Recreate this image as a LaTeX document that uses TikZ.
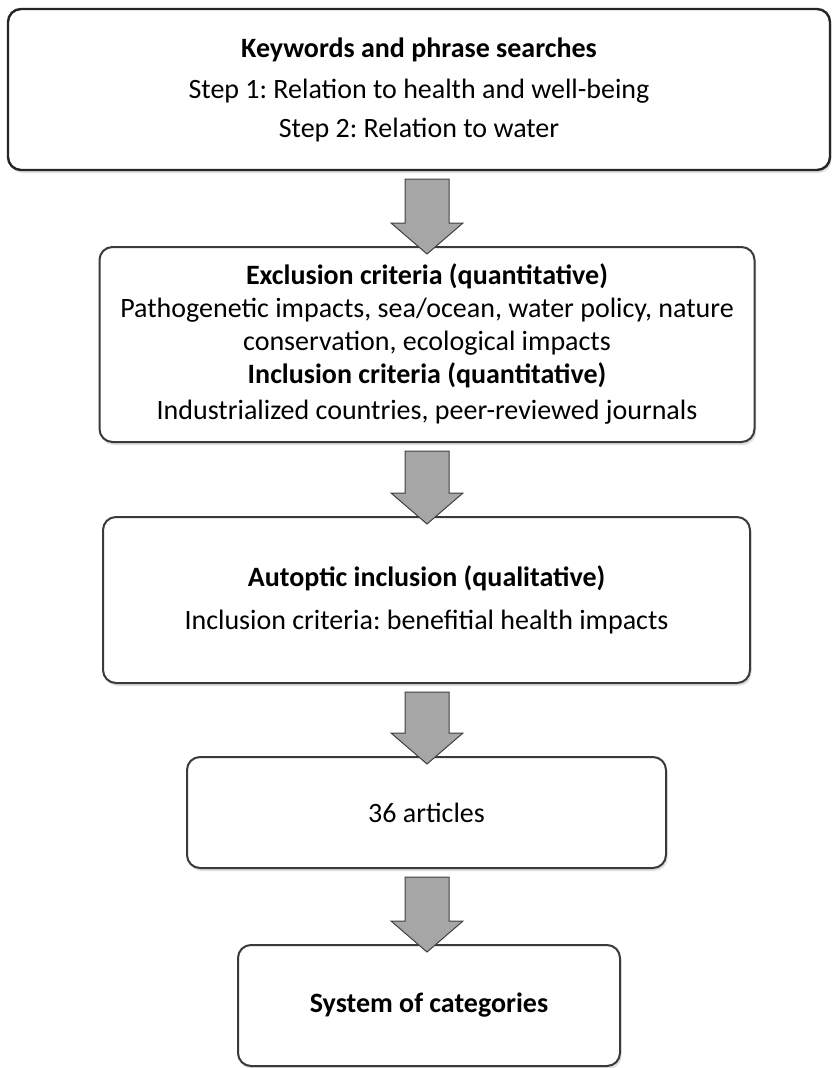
\documentclass[tikz,border=0pt]{standalone}
\usepackage{fontspec}
\setmainfont{Carlito}
\frenchspacing
\usetikzlibrary{shadows,calc}
\definecolor{boxline}{HTML}{3A3A3A}
\definecolor{arrowfill}{HTML}{A6A6A6}
\definecolor{arrowline}{HTML}{404040}
\tikzset{
  stagebox/.style={draw=boxline, line width=2pt, rounded corners=13pt, fill=white,
    align=center, inner sep=0pt,
    drop shadow={opacity=0.25, shadow xshift=1.5pt, shadow yshift=-3pt}},
  topbox/.style={stagebox, draw=black!85, line width=2.4pt},
  blockarrow/.style={draw=arrowline, line width=1pt, fill=arrowfill, line join=miter},
  txt/.style={font=\fontsize{28}{33}\selectfont}
}
\begin{document}
\begin{tikzpicture}[x=1pt,y=-1pt]
\useasboundingbox (0,0) rectangle (832,1068);
\node[topbox, minimum width=822pt, minimum height=161pt, txt] (b1) at (419,89.5)
  {\textbf{Keywords and phrase searches}\\[8pt] Step 1: Relation to health and well-being\\[6pt] Step 2: Relation to water};
\node[stagebox, minimum width=655pt, minimum height=195pt, txt] (b2) at (427,344.5)
  {\textbf{Exclusion criteria (quantitative)}\\ Pathogenetic impacts, sea/ocean, water policy, nature\\ conservation, ecological impacts\\ \textbf{Inclusion criteria (quantitative)}\\[3pt] Industrialized countries, peer-reviewed journals};
\node[stagebox, minimum width=647pt, minimum height=166pt, txt] (b3) at (426.5,600)
  {\textbf{Autoptic inclusion (qualitative)}\\[10pt] Inclusion criteria: benefitial health impacts};
\node[stagebox, minimum width=479pt, minimum height=111pt, txt] (b4) at (426.5,812.5)
  {36 articles};
\node[stagebox, minimum width=382pt, minimum height=121pt, txt] (b5) at (429,1005.5)
  {\textbf{System of categories}};
% block arrows between stages
\foreach \a/\b in {b1/b2, b2/b3, b3/b4, b4/b5}{
  \path let \p1=(\a.south), \p2=(\b.north) in
    coordinate (top) at (427,\y1-8)
    coordinate (tip) at (427,\y2-8);
  \draw[blockarrow] let \p1=(top), \p2=(tip) in
    (\x1-22,\y1) -- (\x1+22,\y1) -- (\x1+22,\y2+31) -- (\x1+36,\y2+31)
    -- (\p2) -- (\x1-36,\y2+31) -- (\x1-22,\y2+31) -- cycle;
}
\end{tikzpicture}
\end{document}
